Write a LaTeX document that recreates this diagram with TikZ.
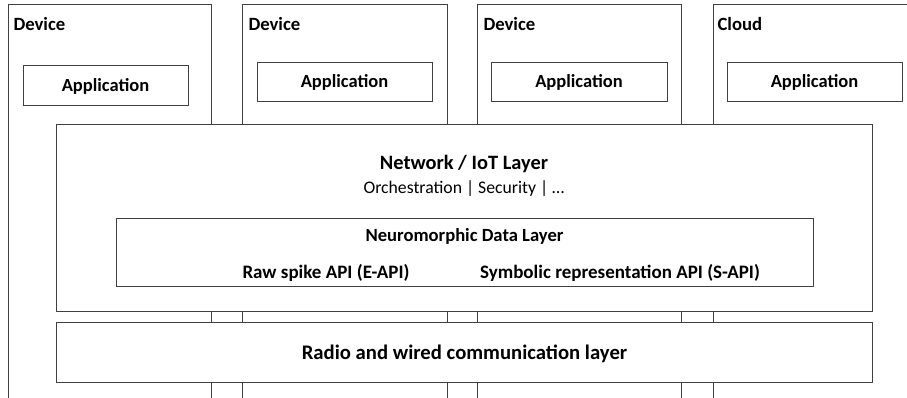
\documentclass[tikz,border=0pt]{standalone}
\usepackage{fontspec}
\setmainfont{Carlito}

\begin{document}
\begin{tikzpicture}[x=1pt,y=-1pt,
    box/.style={draw=black!75, line width=0.9pt},
    layer/.style={box, fill=white, inner sep=0pt},
    title/.style={anchor=west, font=\bfseries\fontsize{18.7}{22}\selectfont},
    apptext/.style={font=\bfseries\fontsize{18.5}{22}\selectfont, text depth=1pt},
    subtext/.style={font=\bfseries\fontsize{19}{22}\selectfont},
  ]
  \useasboundingbox (0,0) rectangle (907,398);

  % device and cloud columns, open at the bottom
  \draw[box] (8,398) -- (8,4) -- (211,4) -- (211,398);
  \draw[box] (242,398) -- (242,4) -- (447,4) -- (447,398);
  \draw[box] (477,398) -- (477,4) -- (681,4) -- (681,398);
  \draw[box] (713,398) -- (713,4) -- (907,4);
  \node[title] (dev1) at (10,24) {Device};
  \node[title] (dev2) at (245,24) {Device};
  \node[title] (dev3) at (480,24) {Device};
  \node[title] (cloud) at (714,24) {Cloud};

  % applications
  \node[layer, apptext, minimum width=165, minimum height=40] (app1) at (105.5,85) {Application};
  \node[layer, apptext, minimum width=175, minimum height=39] (app2) at (344.5,81.5) {Application};
  \node[layer, apptext, minimum width=176, minimum height=39] (app3) at (579,81.5) {Application};
  \node[layer, apptext, minimum width=175, minimum height=39] (app4) at (814.5,81.5) {Application};

  % network layer
  \node[layer, minimum width=816, minimum height=187] (net) at (464,217.5) {};
  \node[font=\bfseries\fontsize{20.4}{24}\selectfont] (nettitle) at (464,163.5) {Network / IoT Layer};
  \node[font=\fontsize{17.7}{21}\selectfont] (netsub) at (464,188.5) {Orchestration | Security | …};

  % neuromorphic data layer
  \node[layer, minimum width=697, minimum height=68] (neuro) at (464.5,252) {};
  \node[subtext, font=\bfseries\fontsize{18.6}{22}\selectfont] (neurotitle) at (464.5,236) {Neuromorphic Data Layer};
  \node[subtext] (eapi) at (326,273) {Raw spike API (E-API)};
  \node[subtext] (sapi) at (620,273) {Symbolic representation API (S-API)};

  % radio layer
  \node[layer, minimum width=816, minimum height=60] (radio) at (464,352) {};
  \node[font=\bfseries\fontsize{20.7}{24}\selectfont] (radiotext) at (464.5,353.5) {Radio and wired communication layer};
\end{tikzpicture}
\end{document}
